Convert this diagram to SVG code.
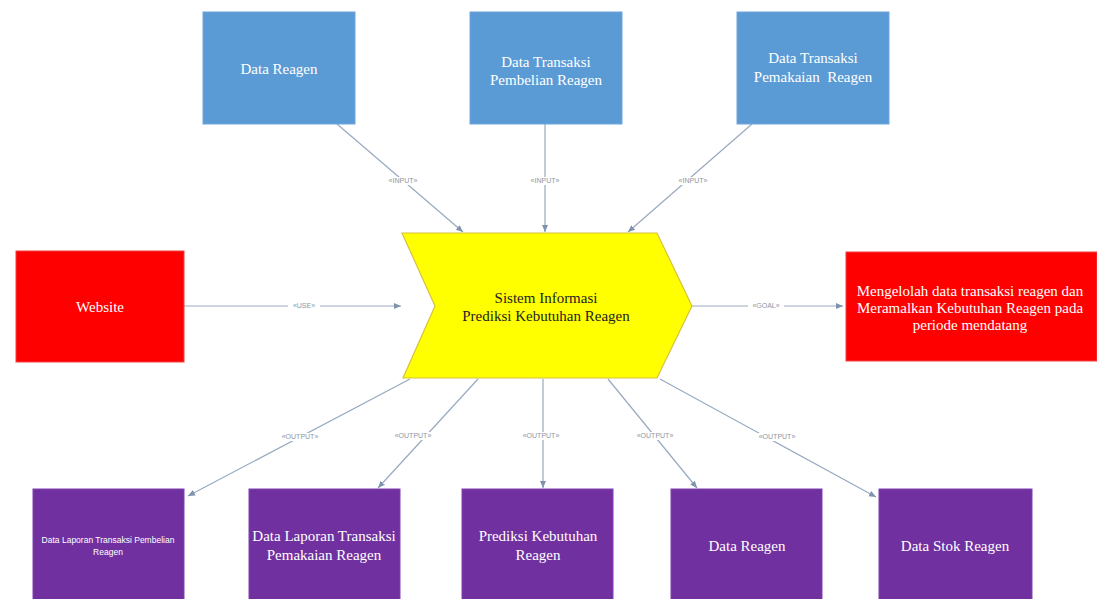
<svg xmlns="http://www.w3.org/2000/svg" width="1097" height="599" viewBox="0 0 1097 599">
  <style>
    .box-in { fill: #5b9bd5; stroke: #6fa6da; stroke-width: 1; }
    .box-red { fill: #ff0000; stroke: #f04040; stroke-width: 1; }
    .box-out { fill: #7030a0; stroke: #8040b0; stroke-width: 1; }
    .core { fill: #ffff00; stroke: #d8c040; stroke-width: 1.2; }
    .t { font-family: "Liberation Serif", "Times New Roman", serif; font-size: 15px; fill: #ffffff; text-anchor: middle; }
    .tc { font-family: "Liberation Serif", "Times New Roman", serif; font-size: 15px; fill: #222222; text-anchor: middle; }
    .ts { font-family: "Liberation Sans", Arial, sans-serif; font-size: 8.5px; fill: #ffffff; text-anchor: middle; }
    .conn { stroke: #98aac0; stroke-width: 1.2; fill: none; marker-end: url(#arrow); }
    .lbl { font-family: "Liberation Sans", Arial, sans-serif; font-size: 7px; fill: #8a96a6; text-anchor: middle; dominant-baseline: middle; }
    .lblbg { fill: #ffffff; }
  </style>
  <defs>
    <marker id="arrow" markerWidth="8" markerHeight="8" refX="7" refY="4" orient="auto" markerUnits="userSpaceOnUse">
      <path d="M0,1 L7,4 L0,7 Z" fill="#7f93ad"/>
    </marker>
  </defs>
  <rect width="1097" height="599" fill="#ffffff"/>

  <!-- connectors -->
  <g id="connectors">
    <line class="conn" x1="337" y1="124" x2="463" y2="232"/>
    <line class="conn" x1="545" y1="124" x2="545" y2="232"/>
    <line class="conn" x1="752" y1="124" x2="628" y2="232"/>
    <line class="conn" x1="184" y1="306" x2="401" y2="306"/>
    <line class="conn" x1="692" y1="306" x2="843" y2="306"/>
    <line class="conn" x1="410" y1="379" x2="188" y2="496"/>
    <line class="conn" x1="478" y1="379" x2="378" y2="488"/>
    <line class="conn" x1="543" y1="379" x2="543" y2="488"/>
    <line class="conn" x1="608" y1="379" x2="697" y2="488"/>
    <line class="conn" x1="660" y1="379" x2="876" y2="497"/>

    <g id="connector-labels">
      <rect class="lblbg" x="383" y="177" width="40" height="8"/>
      <text class="lbl" x="403" y="181">«INPUT»</text>
      <rect class="lblbg" x="525" y="177" width="40" height="8"/>
      <text class="lbl" x="545" y="181">«INPUT»</text>
      <rect class="lblbg" x="673" y="177" width="40" height="8"/>
      <text class="lbl" x="693" y="181">«INPUT»</text>
      <rect class="lblbg" x="288" y="302" width="32" height="8"/>
      <text class="lbl" x="304" y="306">«USE»</text>
      <rect class="lblbg" x="748" y="302" width="36" height="8"/>
      <text class="lbl" x="766" y="306">«GOAL»</text>
      <rect class="lblbg" x="277" y="433" width="46" height="8"/>
      <text class="lbl" x="300" y="437">«OUTPUT»</text>
      <rect class="lblbg" x="390" y="432" width="46" height="8"/>
      <text class="lbl" x="413" y="436">«OUTPUT»</text>
      <rect class="lblbg" x="518" y="432" width="46" height="8"/>
      <text class="lbl" x="541" y="436">«OUTPUT»</text>
      <rect class="lblbg" x="632" y="432" width="46" height="8"/>
      <text class="lbl" x="655" y="436">«OUTPUT»</text>
      <rect class="lblbg" x="754" y="433" width="46" height="8"/>
      <text class="lbl" x="777" y="437">«OUTPUT»</text>
    </g>
  </g>

  <!-- input nodes -->
  <g id="in-data-reagen">
    <rect class="box-in" x="203" y="12" width="152" height="112"/>
    <text class="t" x="279" y="74">Data Reagen</text>
  </g>
  <g id="in-transaksi-pembelian">
    <rect class="box-in" x="470" y="12" width="152" height="112"/>
    <text class="t" x="546" y="67">Data Transaksi</text>
    <text class="t" x="546" y="85">Pembelian Reagen</text>
  </g>
  <g id="in-transaksi-pemakaian">
    <rect class="box-in" x="737" y="12" width="152" height="112"/>
    <text class="t" x="813" y="63">Data Transaksi</text>
    <text class="t" x="813" y="82" xml:space="preserve">Pemakaian  Reagen</text>
  </g>

  <!-- use / goal nodes -->
  <g id="website">
    <rect class="box-red" x="16" y="251" width="168" height="111"/>
    <text class="t" x="100" y="312">Website</text>
  </g>
  <g id="goal">
    <rect class="box-red" x="846" y="252" width="251" height="109"/>
    <text class="t" x="970" y="296">Mengelolah data transaksi reagen dan</text>
    <text class="t" x="970" y="313">Meramalkan Kebutuhan Reagen pada</text>
    <text class="t" x="970" y="330">periode mendatang</text>
  </g>

  <!-- core system -->
  <g id="sistem">
    <polygon class="core" points="402,233 657,233 692,306 657,378 403,378 435,306"/>
    <text class="tc" x="546" y="303">Sistem Informasi</text>
    <text class="tc" x="546" y="321">Prediksi Kebutuhan Reagen</text>
  </g>

  <!-- output nodes -->
  <g id="out-laporan-pembelian">
    <rect class="box-out" x="33" y="489" width="151" height="115"/>
    <text class="ts" x="108" y="543">Data Laporan Transaksi Pembelian</text>
    <text class="ts" x="108" y="555">Reagen</text>
  </g>
  <g id="out-laporan-pemakaian">
    <rect class="box-out" x="249" y="489" width="151" height="115"/>
    <text class="t" x="324" y="541">Data Laporan Transaksi</text>
    <text class="t" x="324" y="560">Pemakaian Reagen</text>
  </g>
  <g id="out-prediksi">
    <rect class="box-out" x="462" y="489" width="151" height="115"/>
    <text class="t" x="538" y="541">Prediksi Kebutuhan</text>
    <text class="t" x="538" y="560">Reagen</text>
  </g>
  <g id="out-data-reagen">
    <rect class="box-out" x="671" y="489" width="151" height="115"/>
    <text class="t" x="747" y="551">Data Reagen</text>
  </g>
  <g id="out-stok">
    <rect class="box-out" x="879" y="489" width="153" height="115"/>
    <text class="t" x="955" y="551">Data Stok Reagen</text>
  </g>
</svg>
